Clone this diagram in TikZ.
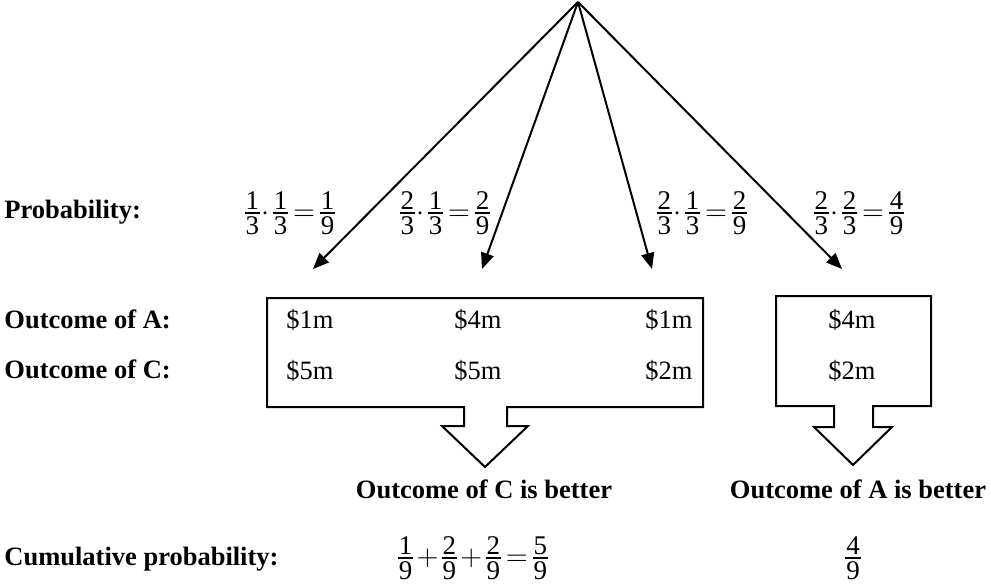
\documentclass[tikz,border=0pt]{standalone}
\usepackage{amsmath}
\usepackage{fontspec}
\setmainfont{Liberation Serif}
\usetikzlibrary{arrows.meta}
\newcommand{\cd}{\mkern1mu\mathord{\cdot}\mkern2mu}
\newcommand{\eqs}{\mkern3mu\mathord{=}\mkern3mu}
\newcommand{\pls}{\mkern2mu\mathord{+}\mkern2mu}
\newcommand{\fr}[2]{\vcenter{\hbox{\vbox{\halign{\kern0.5pt\hfil##\hfil\kern0.5pt\cr#1\cr\noalign{\kern1.1pt\hrule height1pt\kern1.3pt}#2\cr}}}}}
\begin{document}
\begin{tikzpicture}[x=0.5pt,y=-0.5pt,
  every node/.style={font=\fontsize{13.25}{16}\selectfont, inner sep=0pt},
  lbl/.style={anchor=base west, font=\fontsize{13.25}{16}\selectfont\bfseries},
  res/.style={anchor=base, font=\fontsize{13.25}{16}\selectfont\bfseries},
  amt/.style={anchor=base},
  frc/.style={anchor=center, font=\fontsize{13.5}{16}\selectfont},
  branch/.style={line width=1pt, -{Triangle[length=8pt,width=6.5pt]}},
  callout/.style={line width=1pt, fill=white, line join=miter}]
\useasboundingbox (0,0) rectangle (991,584);

% branches
\coordinate (top) at (578,2);
\coordinate (e1) at (313,269);
\coordinate (e2) at (482,269);
\coordinate (e3) at (652,269);
\coordinate (e4) at (842,269);
\draw[branch] (top) -- (e1);
\draw[branch] (top) -- (e2);
\draw[branch] (top) -- (e3);
\draw[branch] (top) -- (e4);

% callout boxes
\draw[callout] (267,298) -- (703,298) -- (703,407) -- (507,407) -- (507,426) -- (528,426)
  -- (485,467) -- (442,426) -- (464,426) -- (464,407) -- (267,407) -- cycle;
\draw[callout] (776,296) -- (931,296) -- (931,406) -- (873,406) -- (873,427) -- (892,427)
  -- (853,465) -- (814,427) -- (834,427) -- (834,406) -- (776,406) -- cycle;

% left labels
\node[lbl] (lp) at (4,218) {Probability:};
\node[lbl] (la) at (4,328) {Outcome of A:};
\node[lbl] (lc) at (4,378) {Outcome of C:};
\node[lbl] (lcum) at (4,565) {Cumulative probability:};

% probabilities
\node[frc] (p1) at (290,213) {$\fr{1}{3}\cd\fr{1}{3}\eqs\fr{1}{9}$};
\node[frc] (p2) at (445,213) {$\fr{2}{3}\cd\fr{1}{3}\eqs\fr{2}{9}$};
\node[frc] (p3) at (702,213) {$\fr{2}{3}\cd\fr{1}{3}\eqs\fr{2}{9}$};
\node[frc] (p4) at (859,213) {$\fr{2}{3}\cd\fr{2}{3}\eqs\fr{4}{9}$};

% outcomes
\node[amt] (a1) at (310,328) {\$1m};
\node[amt] (a2) at (478,328) {\$4m};
\node[amt] (a3) at (669,328) {\$1m};
\node[amt] (c1) at (310,379) {\$5m};
\node[amt] (c2) at (478,379) {\$5m};
\node[amt] (c3) at (669,379) {\$2m};
\node[amt] (a4) at (852,328) {\$4m};
\node[amt] (c4) at (852,379) {\$2m};

% results
\node[res] (rc) at (484,498) {Outcome of C is better};
\node[res] (ra) at (858,498) {Outcome of A is better};

% cumulative
\node[frc] (cum1) at (473,558) {$\fr{1}{9}\pls\fr{2}{9}\pls\fr{2}{9}\eqs\fr{5}{9}$};
\node[frc] (cum2) at (853,558) {$\fr{4}{9}$};
\end{tikzpicture}
\end{document}
